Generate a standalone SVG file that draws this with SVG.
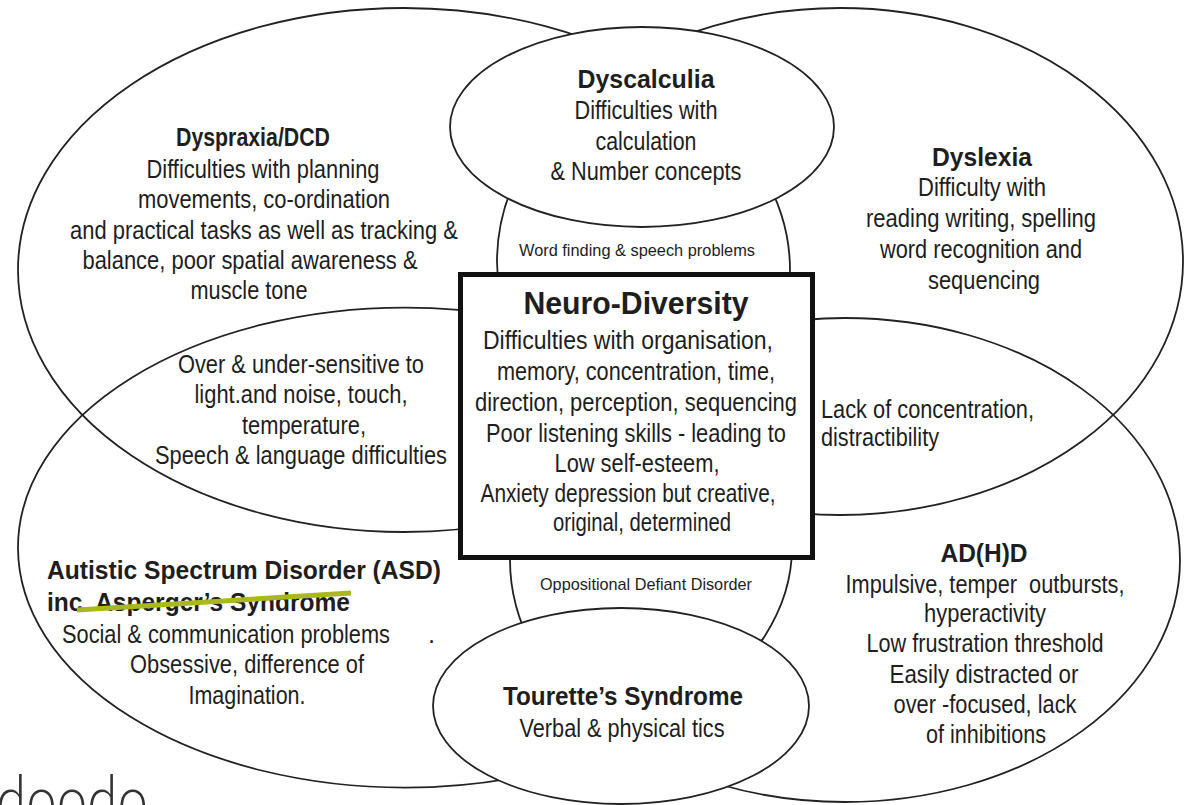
<svg xmlns="http://www.w3.org/2000/svg" width="1184" height="805" viewBox="0 0 1184 805">
<style>
.ln{fill:none;stroke:#222;stroke-width:1.8}
.wf{fill:#fff;stroke:#222;stroke-width:1.8}
.t{font-family:"Liberation Sans",Arial,sans-serif;font-size:25.5px;fill:#1e1e1e;text-anchor:middle}
.l{text-anchor:start}
.b{font-weight:bold;font-size:26px}
.s{font-size:17px}
</style>
<rect width="1184" height="805" fill="#fff"/>
<g id="dyspraxia">
<ellipse class="ln" cx="404" cy="270" rx="386" ry="262"/>
<text class="t b" x="253" y="146" textLength="154" lengthAdjust="spacingAndGlyphs">Dyspraxia/DCD</text>
<text class="t" x="263" y="178" textLength="233" lengthAdjust="spacingAndGlyphs">Difficulties with planning</text>
<text class="t" x="264" y="208" textLength="252" lengthAdjust="spacingAndGlyphs">movements, co-ordination</text>
<text class="t" x="264" y="239" textLength="388" lengthAdjust="spacingAndGlyphs">and practical tasks as well as tracking &amp;</text>
<text class="t" x="250" y="269" textLength="335" lengthAdjust="spacingAndGlyphs">balance, poor spatial awareness &amp;</text>
<text class="t" x="249" y="299" textLength="117" lengthAdjust="spacingAndGlyphs">muscle tone</text>
</g>
<g id="dyslexia">
<ellipse class="ln" cx="840" cy="261.5" rx="343" ry="253.5"/>
<text class="t b" x="982" y="166" textLength="100" lengthAdjust="spacingAndGlyphs">Dyslexia</text>
<text class="t" x="982" y="196" textLength="128" lengthAdjust="spacingAndGlyphs">Difficulty with</text>
<text class="t" x="981" y="227" textLength="230" lengthAdjust="spacingAndGlyphs">reading writing, spelling</text>
<text class="t" x="981" y="258" textLength="202" lengthAdjust="spacingAndGlyphs">word recognition and</text>
<text class="t" x="984" y="289" textLength="112" lengthAdjust="spacingAndGlyphs">sequencing</text>
</g>
<g id="asd">
<ellipse class="ln" cx="405" cy="547.6" rx="387" ry="240"/>
<text class="t b l" x="47" y="579" textLength="394" lengthAdjust="spacingAndGlyphs">Autistic Spectrum Disorder (ASD)</text>
<text class="t b l" x="47" y="611" textLength="303" lengthAdjust="spacingAndGlyphs">inc. Asperger’s Syndrome</text>
<line x1="77" y1="610" x2="351" y2="593" stroke="#a9b91c" stroke-width="5"/>
<text class="t l" x="62" y="643" textLength="328" lengthAdjust="spacingAndGlyphs">Social &amp; communication problems</text>
<text class="t l" x="428" y="643">.</text>
<text class="t" x="247" y="673" textLength="234" lengthAdjust="spacingAndGlyphs">Obsessive, difference of</text>
<text class="t" x="247" y="704" textLength="117" lengthAdjust="spacingAndGlyphs">Imagination.</text>
</g>
<g id="adhd">
<ellipse class="ln" cx="845" cy="560" rx="335" ry="242"/>
<text class="t b" x="984" y="562" textLength="87" lengthAdjust="spacingAndGlyphs">AD(H)D</text>
<text class="t" x="985" y="593" textLength="279" lengthAdjust="spacingAndGlyphs" style="white-space:pre">Impulsive, temper  outbursts,</text>
<text class="t" x="985" y="622" textLength="122" lengthAdjust="spacingAndGlyphs">hyperactivity</text>
<text class="t" x="985" y="652" textLength="237" lengthAdjust="spacingAndGlyphs">Low frustration threshold</text>
<text class="t" x="984" y="683" textLength="189" lengthAdjust="spacingAndGlyphs">Easily distracted or</text>
<text class="t" x="985" y="713" textLength="183" lengthAdjust="spacingAndGlyphs">over -focused, lack</text>
<text class="t" x="986" y="743" textLength="120" lengthAdjust="spacingAndGlyphs">of inhibitions</text>
</g>
<g id="dyscalculia">
<ellipse class="wf" cx="642" cy="127" rx="192" ry="100"/>
<text class="t b" x="646" y="88" textLength="137" lengthAdjust="spacingAndGlyphs">Dyscalculia</text>
<text class="t" x="646" y="119" textLength="143" lengthAdjust="spacingAndGlyphs">Difficulties with</text>
<text class="t" x="646" y="150" textLength="101" lengthAdjust="spacingAndGlyphs">calculation</text>
<text class="t" x="646" y="180" textLength="191" lengthAdjust="spacingAndGlyphs">&amp; Number concepts</text>
</g>
<g id="tourettes">
<ellipse class="wf" cx="621" cy="706" rx="188" ry="98"/>
<text class="t b" x="623" y="705" textLength="240" lengthAdjust="spacingAndGlyphs">Tourette’s Syndrome</text>
<text class="t" x="622" y="737" textLength="205" lengthAdjust="spacingAndGlyphs">Verbal &amp; physical tics</text>
</g>
<g id="word-finding">
<text class="t s" x="637" y="256" textLength="236" lengthAdjust="spacingAndGlyphs">Word finding &amp; speech problems</text>
</g>
<g id="oppositional">
<text class="t s" x="646" y="590" textLength="212" lengthAdjust="spacingAndGlyphs">Oppositional Defiant Disorder</text>
</g>
<g id="sensitivity">
<text class="t" x="301" y="373" textLength="246" lengthAdjust="spacingAndGlyphs">Over &amp; under-sensitive to</text>
<text class="t" x="301" y="403" textLength="213" lengthAdjust="spacingAndGlyphs">light.and noise, touch,</text>
<text class="t" x="304" y="434" textLength="124" lengthAdjust="spacingAndGlyphs">temperature,</text>
<text class="t" x="301" y="464" textLength="292" lengthAdjust="spacingAndGlyphs">Speech &amp; language difficulties</text>
</g>
<g id="concentration">
<text class="t l" x="821" y="418" textLength="213" lengthAdjust="spacingAndGlyphs">Lack of concentration,</text>
<text class="t l" x="821" y="446" textLength="118" lengthAdjust="spacingAndGlyphs">distractibility</text>
</g>
<g id="neuro-diversity">
<rect x="460.5" y="274.5" width="352" height="283" fill="#fff" stroke="#111" stroke-width="5"/>
<text class="t b" x="636" y="314" style="font-size:32px" textLength="225" lengthAdjust="spacingAndGlyphs">Neuro-Diversity</text>
<text class="t" x="628" y="349" textLength="290" lengthAdjust="spacingAndGlyphs">Difficulties with organisation,</text>
<text class="t" x="636" y="380" textLength="278" lengthAdjust="spacingAndGlyphs">memory, concentration, time,</text>
<text class="t" x="636" y="411" textLength="322" lengthAdjust="spacingAndGlyphs">direction, perception, sequencing</text>
<text class="t" x="636" y="442" textLength="300" lengthAdjust="spacingAndGlyphs">Poor listening skills - leading to</text>
<text class="t" x="637" y="472" textLength="165" lengthAdjust="spacingAndGlyphs">Low self-esteem,</text>
<text class="t" x="628" y="502" textLength="295" lengthAdjust="spacingAndGlyphs">Anxiety depression but creative,</text>
<text class="t" x="642" y="531" textLength="178" lengthAdjust="spacingAndGlyphs">original, determined</text>
</g>
<g id="logo">
<text x="-4" y="824" font-family="Lato, 'Liberation Sans', sans-serif" font-weight="300" font-size="68" fill="#333" textLength="152" lengthAdjust="spacingAndGlyphs">doodo</text>
</g>
</svg>
